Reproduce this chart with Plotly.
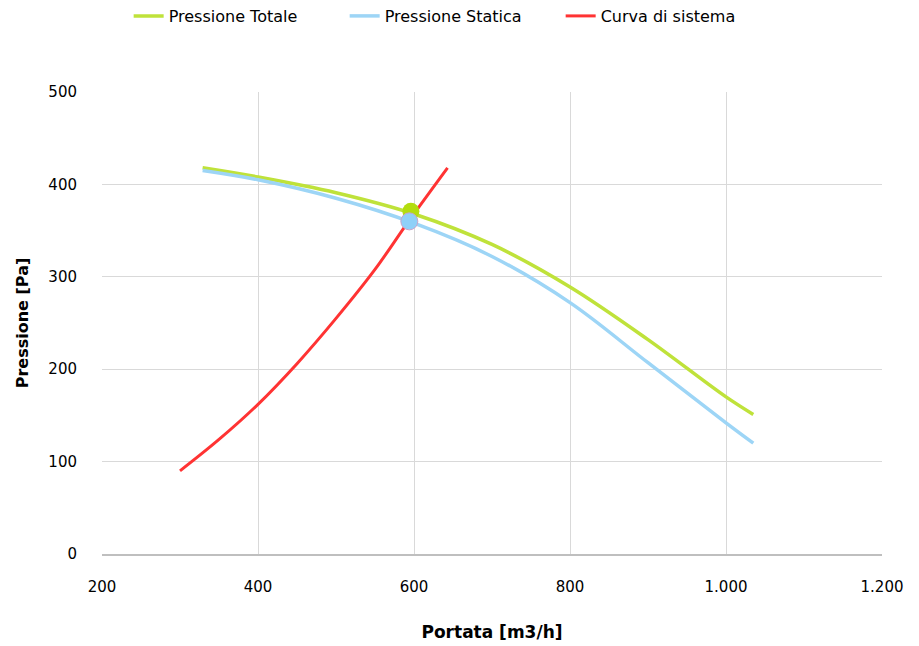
import plotly.graph_objects as go

# Data
q_totale = [329, 400, 500, 600, 700, 800, 900, 1000, 1035]
p_totale = [418, 408, 391, 368, 335, 289, 232, 170, 151]

q_statica = [329, 400, 500, 600, 700, 800, 900, 1000, 1035]
p_statica = [415, 405, 385, 358, 322, 272, 207, 142, 120]

q_sistema = [300, 350, 400, 450, 500, 550, 593, 643]
p_sistema = [90, 124, 162, 206, 255, 308, 360, 418]

punto_totale = (596, 371)
punto_statica = (594, 360)

x_ticks = [200, 400, 600, 800, 1000, 1200]
y_ticks = [0, 100, 200, 300, 400, 500]

GREEN = "#bfe23a"
BLUE = "#9dd5f6"
RED = "#ff3333"
FONT = "DejaVu Sans"

fig = go.Figure()
fig.add_trace(go.Scatter(x=q_totale, y=p_totale, mode="lines", name="Pressione Totale",
                         line=dict(color=GREEN, width=3.5, shape="spline")))
fig.add_trace(go.Scatter(x=q_statica, y=p_statica, mode="lines", name="Pressione Statica",
                         line=dict(color=BLUE, width=3.5, shape="spline")))
fig.add_trace(go.Scatter(x=q_sistema, y=p_sistema, mode="lines", name="Curva di sistema",
                         line=dict(color=RED, width=3, shape="spline")))
fig.add_trace(go.Scatter(x=[punto_totale[0]], y=[punto_totale[1]], mode="markers", showlegend=False,
                         marker=dict(color="#b3dd0f", size=17, line=dict(width=0))))
fig.add_trace(go.Scatter(x=[punto_statica[0]], y=[punto_statica[1]], mode="markers", showlegend=False,
                         marker=dict(color="#8fd0f8", size=17, line=dict(width=1, color="#c9a3c9"))))

fig.update_layout(
    width=919, height=646,
    margin=dict(l=102, r=37, t=92, b=92, autoexpand=False),
    plot_bgcolor="white", paper_bgcolor="white",
    separators=",.",
    font=dict(family=FONT, size=15, color="#000000"),
    legend=dict(orientation="h", xref="container", yref="container",
                x=0.140, y=1 - 16 / 646, xanchor="left", yanchor="middle",
                entrywidth=171, entrywidthmode="pixels",
                font=dict(family=FONT, size=16)),
    xaxis=dict(range=[200, 1200], tickvals=x_ticks, tickformat=",d",
               showgrid=True, gridcolor="#d9d9d9", gridwidth=1,
               zeroline=False, showline=True, linecolor="#bfbfbf", linewidth=1.5,
               ticks="outside", ticklen=18, tickcolor="rgba(0,0,0,0)",
               tickfont=dict(family=FONT, size=15), automargin=False,
               title=dict(text="<b>Portata [m3/h]</b>", standoff=31,
                          font=dict(family=FONT, size=17))),
    yaxis=dict(range=[0, 500], tickvals=y_ticks,
               showgrid=True, gridcolor="#d9d9d9", gridwidth=1,
               zeroline=False, showline=False,
               ticks="outside", ticklen=21, tickcolor="rgba(0,0,0,0)",
               tickfont=dict(family=FONT, size=15), automargin=False,
               title=dict(text="<b>Pressione [Pa]</b>", standoff=15,
                          font=dict(family=FONT, size=16))),
)

fig.write_html("out.html", config={"displayModeBar": False},
               post_script="document.body.style.margin='0';")
